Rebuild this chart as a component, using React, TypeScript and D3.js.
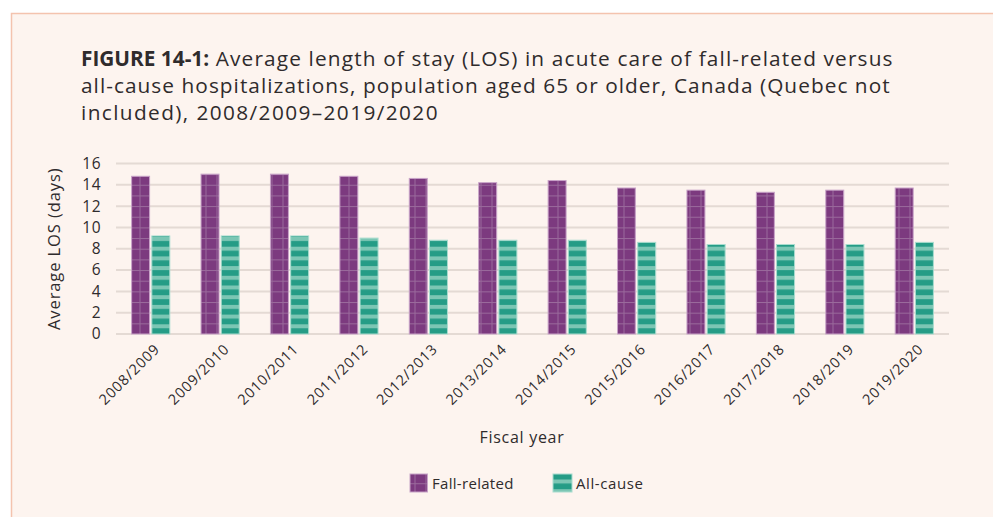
import React from "react";
import * as d3 from "d3";

const categories = ["2008/2009","2009/2010","2010/2011","2011/2012","2012/2013","2013/2014","2014/2015","2015/2016","2016/2017","2017/2018","2018/2019","2019/2020"];
const fallRelated = [14.8, 15.0, 15.0, 14.8, 14.6, 14.2, 14.4, 13.7, 13.5, 13.3, 13.5, 13.7];
const allCause = [9.2, 9.2, 9.2, 9.0, 8.8, 8.8, 8.8, 8.6, 8.4, 8.4, 8.4, 8.6];
const yTicks = [0, 2, 4, 6, 8, 10, 12, 14, 16];
const seriesNames = ["Fall-related", "All-cause"];

const W = 993, H = 517;
const plot = { left: 116, right: 949, top: 163.5, bottom: 334 };
const FONT = "'Open Sans', sans-serif";
const TEXT = "#2f2b2c";

export default function App() {
  const x0 = d3.scaleBand<string>().domain(categories).range([plot.left, plot.right]).paddingInner(0.45).paddingOuter(0.225);
  const x1 = d3.scaleBand<string>().domain(seriesNames).range([0, x0.bandwidth()]).paddingInner(0.11);
  const y = d3.scaleLinear().domain([0, 16]).range([plot.bottom, plot.top]);

  return (
    <svg width={W} height={H} style={{ position: "absolute", left: 0, top: 0, display: "block" }}>
      <defs>
        <pattern id="pPurple" patternUnits="userSpaceOnUse" width={11} height={10.66} x={0} y={plot.bottom}>
          <rect width={11} height={10.66} fill="#7c3a7f" />
          <line x1={8} y1={0} x2={8} y2={10.66} stroke="#9a6a9c" strokeWidth={1} />
          <line x1={0} y1={0.5} x2={11} y2={0.5} stroke="#9a6a9c" strokeWidth={1} />
        </pattern>
        <pattern id="pTeal" patternUnits="userSpaceOnUse" width={20} height={9.7} x={0} y={plot.bottom}>
          <rect width={20} height={9.7} fill="#259c86" />
          <rect y={0} width={20} height={4} fill="#7cc6b4" />
        </pattern>
      </defs>
      <rect x={11.5} y={13.5} width={W} height={H} fill="#fdf4ef" stroke="#f4c3ae" strokeWidth={1.5} />
      <text x={81} y={66} fontFamily={FONT} fontSize={20.8} fill={TEXT} letterSpacing={1.15}>
        <tspan fontWeight="bold" letterSpacing={0}>FIGURE 14-1:</tspan>
        <tspan> Average length of stay (LOS) in acute care of fall-related versus</tspan>
      </text>
      <text x={81} y={93} fontFamily={FONT} fontSize={20.8} fill={TEXT} letterSpacing={1.05}>all-cause hospitalizations, population aged 65 or older, Canada (Quebec not</text>
      <text x={81} y={120} fontFamily={FONT} fontSize={20.8} fill={TEXT} letterSpacing={1.4}>included), 2008/2009–2019/2020</text>

      {yTicks.map(t => (
        <g key={t}>
          <line x1={plot.left} x2={plot.right} y1={y(t)} y2={y(t)} stroke="#e4dad4" strokeWidth={2} />
          <text x={101} y={y(t)} dy="0.35em" textAnchor="end" fontFamily={FONT} fontSize={15.5} fill={TEXT} letterSpacing={0.5}>{t}</text>
        </g>
      ))}

      {categories.map((c, i) => {
        const gx = x0(c)!;
        const vals = [fallRelated[i], allCause[i]];
        return (
          <g key={c}>
            {vals.map((v, j) => (
              <rect key={j} x={gx + x1(seriesNames[j])!} y={y(v)} width={x1.bandwidth()} height={y(0) - y(v)}
                fill={j === 0 ? "url(#pPurple)" : "url(#pTeal)"} stroke={j === 0 ? "#c8a3c8" : "#a9dccf"} strokeWidth={1} />
            ))}
            <text transform={`translate(${gx + x0.bandwidth() / 2 + 10},${plot.bottom + 16}) rotate(-45)`} textAnchor="end"
              fontFamily={FONT} fontSize={14.5} fill={TEXT} letterSpacing={0.8}>{c}</text>
          </g>
        );
      })}

      <text transform={`translate(60,${(plot.top + plot.bottom) / 2}) rotate(-90)`} textAnchor="middle" fontFamily={FONT} fontSize={16.5} fill={TEXT} letterSpacing={0.9}>Average LOS (days)</text>
      <text x={522} y={443} textAnchor="middle" fontFamily={FONT} fontSize={16} fill={TEXT} letterSpacing={0.7}>Fiscal year</text>

      <rect x={410} y={474} width={17.5} height={18} fill="url(#pPurple)" stroke="#c8a3c8" strokeWidth={1} />
      <text x={432} y={489} fontFamily={FONT} fontSize={15} fill={TEXT} letterSpacing={0.3}>Fall-related</text>
      <rect x={553} y={474} width={19} height={18} fill="url(#pTeal)" stroke="#a9dccf" strokeWidth={1} />
      <text x={576} y={489} fontFamily={FONT} fontSize={15} fill={TEXT} letterSpacing={0.6}>All-cause</text>
    </svg>
  );
}
